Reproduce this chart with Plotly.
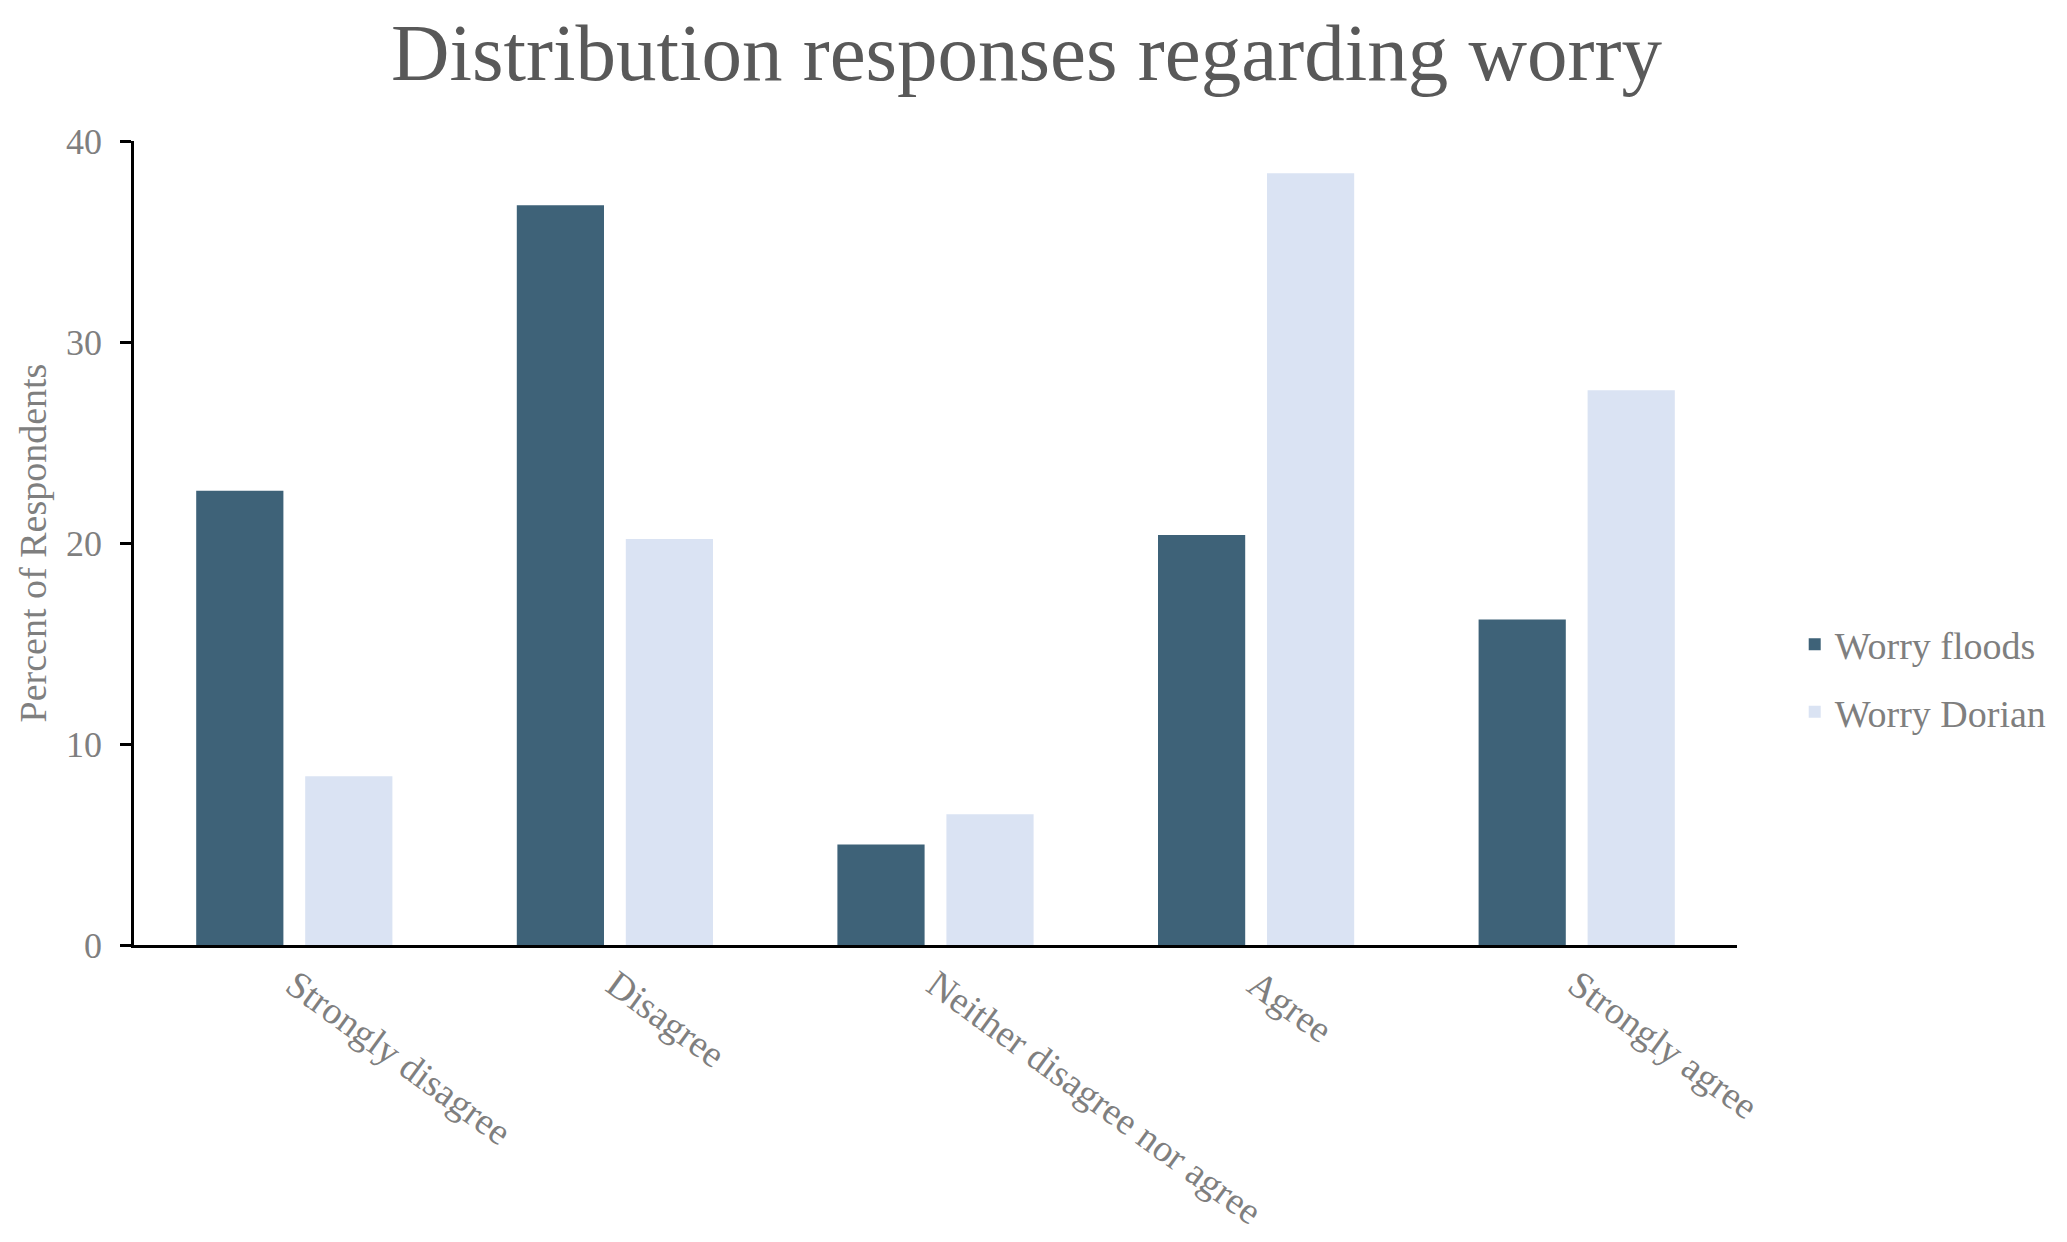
import plotly.graph_objects as go

categories = ["Strongly disagree", "Disagree", "Neither disagree nor agree", "Agree", "Strongly agree"]
worry_floods = [22.6, 36.8, 5.0, 20.4, 16.2]
worry_dorian = [8.4, 20.2, 6.5, 38.4, 27.6]
y_ticks = [0, 10, 20, 30, 40]

FONT = "Liberation Serif"
GREY = "#7f7f7f"

fig = go.Figure()
fig.add_trace(go.Bar(name="Worry floods", x=categories, y=worry_floods, legendgroup="a",
                     marker=dict(color="#3E6278", line=dict(width=0))))
fig.add_trace(go.Bar(name="Worry Dorian", x=categories, y=worry_dorian, legendgroup="b",
                     marker=dict(color="#DAE3F3", line=dict(width=0))))

fig.update_layout(
    width=2067, height=1242,
    margin=dict(l=126, r=338, t=133, b=305),
    paper_bgcolor="white", plot_bgcolor="white",
    barmode="group", bargap=0.32, bargroupgap=0.2,
    font=dict(family=FONT, color=GREY),
    title=dict(text="Distribution responses regarding worry",
               font=dict(family=FONT, size=81, color="#595959"),
               x=0.4927, xref="container", xanchor="center",
               y=0.965, yref="container", yanchor="middle"),
    legend=dict(x=1.036, xanchor="left", y=0.332, yanchor="middle",
                font=dict(family=FONT, size=38, color=GREY),
                tracegroupgap=15, bgcolor="rgba(0,0,0,0)"),
    showlegend=True,
)
fig.update_xaxes(showline=True, linecolor="black", linewidth=2.5, ticks="",
                 tickangle=36, tickfont=dict(family=FONT, size=38, color=GREY),
                 showgrid=False, zeroline=False)
fig.update_yaxes(range=[0, 40], tickvals=y_ticks, showline=True, linecolor="black",
                 linewidth=2.5, ticks="outside", ticklen=11, tickwidth=2.5, tickcolor="black",
                 tickfont=dict(family=FONT, size=36, color=GREY), ticklabelstandoff=11,
                 title=dict(text="Percent of Respondents", standoff=8,
                            font=dict(family=FONT, size=38, color=GREY)),
                 showgrid=False, zeroline=False)

fig.write_html("out.html")
